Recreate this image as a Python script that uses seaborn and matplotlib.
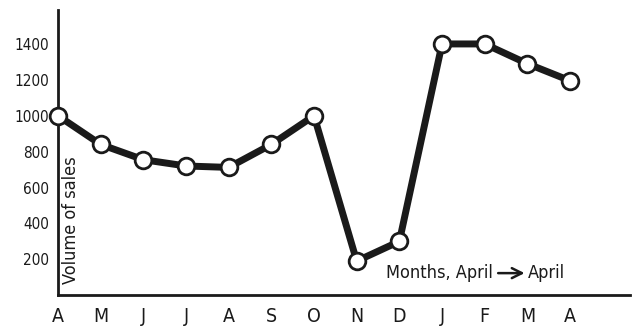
import matplotlib
matplotlib.use('Agg')
import matplotlib.pyplot as plt
from matplotlib import font_manager
import seaborn as sns
import pandas as pd

# Data
months = ['A', 'M', 'J', 'J', 'A', 'S', 'O', 'N', 'D', 'J', 'F', 'M', 'A']
sales = [1000, 840, 755, 720, 712, 840, 1000, 190, 300, 1400, 1400, 1290, 1195]
y_ticks = [200, 400, 600, 800, 1000, 1200, 1400]

df = pd.DataFrame({'idx': range(len(months)), 'sales': sales})

sns.set_style('white')

# the original uses a condensed face; take one if the system has it
narrow = [f for f in font_manager.fontManager.ttflist
          if ('Condensed' in f.fname or 'Narrow' in f.fname)
          and 'Bold' not in f.fname and 'Oblique' not in f.fname and 'Italic' not in f.fname]
if narrow:
    plt.rcParams['font.family'] = [narrow[0].name, 'DejaVu Sans']
    font_kw = dict(stretch=narrow[0].stretch)
    scale = 1.0
else:
    plt.rcParams['font.family'] = ['Liberation Sans', 'DejaVu Sans']
    font_kw = {}
    scale = 0.9

fig = plt.figure(figsize=(6.41, 3.28), dpi=100)
ax = fig.add_axes([0.0905, 0.10, 0.892, 0.87])

sns.lineplot(data=df, x='idx', y='sales', ax=ax, color='#1a1a1a', linewidth=5,
             marker='o', markersize=12, markerfacecolor='white',
             markeredgecolor='#1a1a1a', markeredgewidth=2, clip_on=False, zorder=3)

ax.set_xlim(0, 13.4)
ax.set_ylim(0, 1590)
ax.set_xticks(range(len(months)))
ax.set_xticklabels(months, fontsize=14 * scale, **font_kw)
ax.set_yticks(y_ticks)
ax.set_yticklabels([str(v) for v in y_ticks], fontsize=11 * scale, **font_kw)
ax.tick_params(axis='both', direction='inout', length=9, width=1.5, color='#1a1a1a',
               labelcolor='#1a1a1a')
ax.tick_params(axis='x', pad=4)
ax.tick_params(axis='y', pad=2)

for side in ['top', 'right']:
    ax.spines[side].set_visible(False)
for side in ['left', 'bottom']:
    ax.spines[side].set_linewidth(2)
    ax.spines[side].set_color('#1a1a1a')

ax.set_xlabel('')
ax.set_ylabel('')

ax.text(0.3, 420, 'Volume of sales', rotation=90, ha='center', va='center',
        fontsize=13 * scale, color='#1a1a1a', **font_kw)
ax.text(10.2, 123, 'Months, April', ha='right', va='center', fontsize=13 * scale,
        color='#1a1a1a', **font_kw)
ax.annotate('', xy=(11.0, 123), xytext=(10.25, 123),
            arrowprops=dict(arrowstyle='->', color='#1a1a1a', lw=1.8,
                            mutation_scale=18))
ax.text(11.02, 123, 'April', ha='left', va='center', fontsize=13 * scale,
        color='#1a1a1a', **font_kw)

fig.savefig('out.png', dpi=100)
